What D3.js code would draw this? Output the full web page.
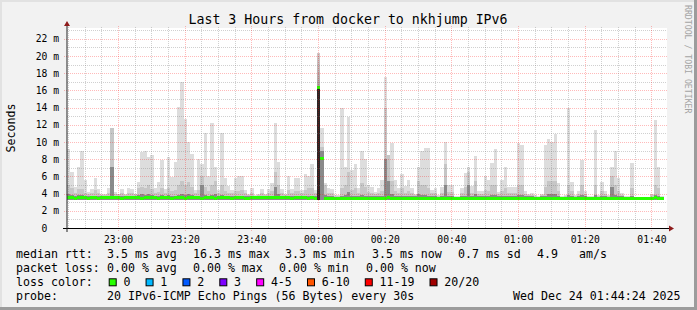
<!DOCTYPE html>
<html>
<head>
<script src="https://d3js.org/d3.v7.min.js"></script>
<style>
  body { margin: 0; background: #f2f2f2; }
  text { font-family: 'DejaVu Sans Mono', monospace; white-space: pre; }
</style>
</head>
<body>
<svg id="chart" width="697" height="310"></svg>
<script>
// one sample per minute, first one at 22:44:40, values in ms
const start = new Date(2025, 11, 23, 22, 44, 40)

// fastest ping, the smoke starts here
const smokeLow = 3.3

const smokeMax = [
  9.2, 6.5, 4.8, 7.1, 8.9, 5.6, 4.2, 4.5, 5.8, 4.5,
  3.9, 3.9, 4.6, 11.6, 4.2, 4.0, 4.5, 3.9, 4.6, 4.5,
  4.0, 5.4, 8.8, 8.9, 8.3, 8.5, 4.6, 5.4, 7.9, 4.5,
  8.3, 5.9, 7.7, 14.1, 17.0, 12.7, 10.0, 8.6, 4.4, 8.0,
  7.5, 11.0, 6.1, 12.2, 7.1, 4.4, 11.0, 5.8, 4.9, 4.4,
  5.8, 6.0, 6.0, 4.4, 3.9, 4.7, 3.8, 3.9, 4.5, 3.9,
  4.5, 5.2, 12.2, 7.7, 4.5, 3.9, 6.1, 4.5, 5.8, 5.8,
  4.4, 6.3, 6.1, 7.4, 4.4, 20.3, 11.6, 5.2, 4.6, 4.5,
  3.8, 3.8, 13.9, 7.1, 12.9, 6.7, 7.4, 4.7, 9.0, 8.0,
  5.0, 4.8, 4.2, 4.6, 5.6, 17.6, 8.5, 9.9, 5.6, 4.6,
  6.3, 4.9, 5.6, 4.6, 3.9, 7.1, 9.0, 9.3, 9.3, 4.4,
  4.6, 3.8, 4.8, 10.0, 5.0, 5.0, 3.7, 3.7, 4.6, 6.4,
  7.1, 4.9, 8.4, 4.3, 4.3, 6.0, 5.6, 7.6, 9.2, 4.2,
  5.6, 7.1, 4.8, 4.8, 4.8, 9.9, 9.6, 4.3, 3.9, 4.1,
  3.8, 3.7, 4.0, 9.7, 10.3, 10.0, 10.9, 5.2, 3.7, 3.8,
  13.9, 5.3, 3.8, 4.3, 7.9, 4.3, 3.7, 3.7, 11.4, 3.8,
  5.4, 4.3, 3.8, 7.1, 9.0, 5.8, 4.1, 3.7, 3.7, 7.6,
  3.6, 3.5, 3.5, 3.5, 3.6, 4.0, 12.6, 7.1, 3.7
]

const smokeMid = [
  5.0, 4.6, 4.1, 4.5, 4.5, 4.1, 4.0, 4.1, 4.4, 4.1,
  3.8, 3.8, 4.1, 11.6, 4.0, 3.9, 4.1, 3.8, 4.1, 4.1,
  3.9, 4.6, 4.8, 4.6, 5.0, 4.5, 4.1, 4.2, 4.6, 4.1,
  4.6, 4.3, 4.4, 5.0, 5.5, 5.0, 5.4, 4.8, 4.1, 4.4,
  6.0, 4.8, 4.3, 5.0, 5.5, 4.1, 5.0, 4.3, 4.1, 4.1,
  4.3, 4.3, 4.4, 4.1, 3.8, 4.1, 3.7, 3.8, 4.1, 3.8,
  4.1, 4.3, 6.5, 5.0, 4.1, 3.8, 4.4, 4.1, 4.3, 4.3,
  4.1, 4.4, 4.6, 4.6, 4.1, 20.3, 9.4, 5.0, 4.1, 4.1,
  3.7, 3.7, 4.6, 5.0, 6.5, 4.4, 4.6, 4.1, 5.2, 4.8,
  4.2, 4.1, 3.9, 4.1, 4.3, 14.0, 8.5, 5.5, 4.3, 4.1,
  4.6, 4.1, 4.3, 4.1, 3.8, 5.5, 5.0, 5.0, 4.6, 4.1,
  4.1, 3.7, 4.1, 7.4, 4.2, 4.2, 3.6, 3.6, 4.1, 4.8,
  6.5, 4.1, 5.5, 3.9, 3.9, 4.4, 4.3, 5.0, 5.0, 3.9,
  4.3, 4.6, 4.1, 4.1, 4.1, 5.0, 5.0, 3.9, 3.8, 3.8,
  3.7, 3.6, 3.8, 4.8, 5.5, 5.5, 5.5, 4.3, 3.6, 3.7,
  5.0, 4.3, 3.7, 3.9, 5.0, 3.9, 3.6, 3.6, 5.0, 3.7,
  4.3, 3.9, 3.7, 6.0, 5.0, 4.3, 3.8, 3.6, 3.6, 4.6,
  3.55, 3.5, 3.5, 3.5, 3.55, 3.8, 5.0, 4.6, 3.6
]

const smokeDark = [
  3.9, 3.8, 3.7, 3.8, 3.8, 3.7, 3.7, 3.7, 3.7, 3.7,
  3.7, 3.7, 3.7, 7.1, 3.7, 3.7, 3.7, 3.7, 3.7, 3.7,
  3.7, 3.8, 3.9, 3.8, 3.9, 3.8, 3.7, 3.7, 3.8, 3.7,
  3.8, 3.7, 3.7, 3.8, 3.9, 3.8, 3.9, 3.8, 3.7, 3.7,
  5.0, 3.8, 3.7, 3.8, 3.9, 3.7, 3.8, 3.7, 3.7, 3.7,
  3.7, 3.7, 3.7, 3.7, 3.7, 3.7, 3.6, 3.7, 3.7, 3.7,
  3.7, 3.7, 4.8, 3.9, 3.7, 3.7, 3.7, 3.7, 3.7, 3.7,
  3.7, 3.7, 3.7, 3.7, 3.7, 16.3, 9.0, 3.8, 3.7, 3.7,
  3.6, 3.6, 3.7, 3.8, 4.2, 3.7, 3.7, 3.7, 3.8, 3.7,
  3.7, 3.7, 3.7, 3.7, 3.7, 8.0, 5.5, 3.9, 3.7, 3.7,
  3.7, 3.7, 3.7, 3.7, 3.7, 3.9, 3.8, 3.8, 3.7, 3.7,
  3.7, 3.6, 3.7, 5.0, 3.7, 3.7, 3.6, 3.6, 3.7, 3.7,
  5.0, 3.7, 3.9, 3.7, 3.7, 3.7, 3.7, 3.8, 3.8, 3.7,
  3.7, 3.7, 3.7, 3.7, 3.7, 3.8, 3.8, 3.7, 3.7, 3.7,
  3.6, 3.6, 3.7, 3.7, 3.9, 3.9, 3.9, 3.7, 3.6, 3.6,
  3.8, 3.7, 3.6, 3.7, 3.8, 3.7, 3.6, 3.6, 3.8, 3.6,
  3.7, 3.7, 3.6, 4.8, 3.8, 3.7, 3.7, 3.6, 3.6, 3.7,
  3.5, 3.5, 3.5, 3.5, 3.5, 3.6, 3.8, 3.7, 3.6
]

const medianRtt = [
  3.5, 3.5, 3.45, 3.5, 3.5, 3.5, 3.45, 3.5, 3.5, 3.45,
  3.5, 3.5, 3.5, 3.6, 3.5, 3.5, 3.45, 3.5, 3.5, 3.5,
  3.5, 3.5, 3.45, 3.5, 3.5, 3.5, 3.5, 3.45, 3.5, 3.5,
  3.5, 3.45, 3.5, 3.5, 3.5, 3.45, 3.5, 3.5, 3.5, 3.5,
  3.45, 3.5, 3.5, 3.5, 3.45, 3.5, 3.5, 3.5, 3.5, 3.45,
  3.5, 3.5, 3.5, 3.45, 3.45, 3.5, 3.5, 3.5, 3.5, 3.5,
  3.5, 3.5, 3.55, 3.6, 3.5, 3.5, 3.5, 3.45, 3.5, 3.5,
  3.5, 3.5, 3.45, 3.5, 3.45, 16.3, 8.1, 3.4, 3.4, 3.4,
  3.4, 3.45, 3.45, 3.4, 3.45, 3.45, 3.45, 3.45, 3.45, 3.45,
  3.4, 3.45, 3.45, 3.45, 3.45, 3.45, 3.5, 3.45, 3.45, 3.45,
  3.4, 3.45, 3.45, 3.45, 3.45, 3.45, 3.45, 3.45, 3.45, 3.45,
  3.45, 3.45, 3.45, 3.45, 3.45, 3.4, 3.45, 3.45, 3.45, 3.45,
  3.45, 3.45, 3.45, 3.45, 3.45, 3.45, 3.45, 3.45, 3.45, 3.45,
  3.45, 3.45, 3.45, 3.45, 3.45, 3.45, 3.45, 3.45, 3.45, 3.45,
  3.45, 3.45, 3.45, 3.45, 3.45, 3.45, 3.45, 3.45, 3.45, 3.45,
  3.45, 3.45, 3.45, 3.45, 3.4, 3.4, 3.45, 3.45, 3.45, 3.45,
  3.45, 3.45, 3.45, 3.45, 3.45, 3.45, 3.45, 3.45, 3.45, 3.45,
  3.45, 3.45, 3.45, 3.45, 3.45, 3.45, 3.5, 3.45, 3.45
]

const title = 'Last 3 Hours from docker to nkhjump IPv6'
const yTicks = [0, 2, 4, 6, 8, 10, 12, 14, 16, 18, 20, 22]

const rttLegend = ['median rtt:', '3.5 ms avg', '16.3 ms max', '3.3 ms min', '3.5 ms now', '0.7 ms sd', '4.9', 'am/s']
const lossLegend = ['packet loss:', '0.00 % avg', '0.00 % max', '0.00 % min', '0.00 % now']
const lossLabels = ['0', '1', '2', '3', '4-5', '6-10', '11-19', '20/20']
const lossColors = ['#26ff00', '#00b8ff', '#0059ff', '#7e00ff', '#ff00ff', '#ff5500', '#ff0000', '#a10000']
const probeLegend = ['probe:', '20 IPv6-ICMP Echo Pings (56 Bytes) every 30s', 'Wed Dec 24 01:44:24 2025']

const W = 697, H = 310
const plot = { left: 67, right: 667, top: 28, bottom: 228 }

const svg = d3.select('#chart')

// background and 3d frame
svg.append('rect').attr('width', W).attr('height', H).attr('fill', '#f2f2f2')
svg.append('path').attr('d', `M0,0H${W}V2H2V${H}H0Z`).attr('fill', '#e2e2e2')
svg.append('path').attr('d', `M${W},${H}H0V${H - 3}H${W - 3}V0H${W}Z`).attr('fill', '#9c9c9c')

const end = new Date(+start + 3 * 3600 * 1000)
const x = d3.scaleTime().domain([start, end]).range([plot.left, plot.right])
const y = d3.scaleLinear().domain([0, 23.26]).range([plot.bottom, plot.top])

svg.append('rect')
  .attr('x', plot.left).attr('y', plot.top)
  .attr('width', plot.right - plot.left).attr('height', plot.bottom - plot.top)
  .attr('fill', '#fff')

const rows = smokeMax.map((v, i) => ({
  t0: new Date(+start + i * 60000),
  t1: new Date(+start + (i + 1) * 60000),
  max: v, mid: smokeMid[i], dark: smokeDark[i], med: medianRtt[i]
}))

const defs = svg.append('defs')
const fade = defs.append('linearGradient').attr('id', 'fade')
  .attr('x1', 0).attr('y1', 1).attr('x2', 0).attr('y2', 0)
fade.append('stop').attr('offset', 0).attr('stop-color', '#2f2828')
fade.append('stop').attr('offset', 1).attr('stop-color', '#cfc8c8')

// smoke
const smoke = svg.append('g').attr('shape-rendering', 'crispEdges')
const band = (cls, top, fill) => {
  smoke.selectAll('rect.' + cls).data(rows).join('rect')
    .attr('class', cls)
    .attr('x', d => x(d.t0))
    .attr('width', d => x(d.t1) - x(d.t0))
    .attr('y', d => y(top(d)))
    .attr('height', d => Math.max(0, y(smokeLow) - y(top(d))))
    .attr('fill', fill)
}
const tall = d => d.dark - smokeLow > 10
band('light', d => d.max, '#dddddd')
band('mid', d => d.mid, d => tall(d) ? 'url(#fade)' : '#c6c6c6')
band('dark', d => d.dark, d => tall(d) ? '#2a2626' : '#8a8a8a')

// median
svg.append('g').attr('shape-rendering', 'crispEdges')
  .selectAll('rect').data(rows).join('rect')
  .attr('x', d => x(d.t0))
  .attr('width', d => x(d.t1) - x(d.t0))
  .attr('y', d => y(d.med) - 1.5)
  .attr('height', 3)
  .attr('fill', lossColors[0])

// grid
const grid = svg.append('g').attr('stroke-dasharray', '1,1').attr('shape-rendering', 'crispEdges')
const minorY = d3.range(1, 24, 2)
const majorY = yTicks.filter(v => v > 0)
grid.selectAll('line.hy').data(minorY).join('line')
  .attr('x1', plot.left).attr('x2', plot.right)
  .attr('y1', d => Math.round(y(d)) + 0.5).attr('y2', d => Math.round(y(d)) + 0.5)
  .attr('stroke', 'rgba(120,120,120,0.35)')
grid.selectAll('line.hY').data(majorY).join('line')
  .attr('x1', plot.left - 3).attr('x2', plot.right)
  .attr('y1', d => Math.round(y(d)) + 0.5).attr('y2', d => Math.round(y(d)) + 0.5)
  .attr('stroke', 'rgba(255,0,0,0.27)')

const minorX = x.ticks(d3.timeMinute.every(5)).filter(d => d.getMinutes() % 20 !== 0)
const majorX = x.ticks(d3.timeMinute.every(20))
grid.selectAll('line.vx').data(minorX).join('line')
  .attr('x1', d => Math.round(x(d)) + 0.5).attr('x2', d => Math.round(x(d)) + 0.5)
  .attr('y1', plot.top - 1).attr('y2', plot.bottom)
  .attr('stroke', 'rgba(120,120,120,0.35)')
grid.selectAll('line.vX').data(majorX).join('line')
  .attr('x1', d => Math.round(x(d)) + 0.5).attr('x2', d => Math.round(x(d)) + 0.5)
  .attr('y1', plot.top - 2).attr('y2', plot.bottom + 3)
  .attr('stroke', 'rgba(255,0,0,0.27)')

// axes lines
svg.append('line')
  .attr('x1', plot.left - 4).attr('x2', plot.right + 3)
  .attr('y1', plot.bottom + 0.5).attr('y2', plot.bottom + 0.5)
  .attr('stroke', '#000')
svg.append('line')
  .attr('x1', plot.left).attr('x2', plot.left)
  .attr('y1', plot.top - 2).attr('y2', plot.bottom + 4)
  .attr('stroke', '#222')

// arrows
svg.append('path').attr('d', `M${plot.left - 3},${plot.top - 2}L${plot.left + 3},${plot.top - 2}L${plot.left},${plot.top - 7}Z`)
  .attr('fill', '#8e1c1c')
svg.append('path').attr('d', `M${plot.right + 2},${plot.bottom - 2.5}L${plot.right + 2},${plot.bottom + 3.5}L${plot.right + 7},${plot.bottom + 0.5}Z`)
  .attr('fill', '#8e1c1c')

// tick labels through d3 axes
const xAxis = svg.append('g')
  .attr('transform', `translate(0,${plot.bottom})`)
  .call(d3.axisBottom(x).ticks(d3.timeMinute.every(20)).tickFormat(d3.timeFormat('%H:%M')).tickSize(0).tickPadding(8))
xAxis.select('.domain').remove()
xAxis.selectAll('text')
  .attr('font-family', "'DejaVu Sans Mono', monospace")
  .attr('font-size', '9.7px').attr('fill', '#000')

const yAxis = svg.append('g')
  .attr('transform', `translate(${plot.left},0)`)
  .call(d3.axisLeft(y).tickValues(yTicks).tickFormat(d => d ? `${d} m` : '0  ').tickSize(0).tickPadding(8))
yAxis.select('.domain').remove()
yAxis.selectAll('text')
  .attr('font-family', "'DejaVu Sans Mono', monospace")
  .attr('font-size', '9.7px').attr('fill', '#000')

// title and side labels
svg.append('text')
  .attr('x', 348).attr('y', 23.5)
  .attr('text-anchor', 'middle')
  .attr('font-size', '13.25px')
  .text(title)

svg.append('text')
  .attr('transform', `translate(14.5,${(plot.top + plot.bottom) / 2}) rotate(-90)`)
  .attr('text-anchor', 'middle')
  .attr('font-size', '11.6px')
  .text('Seconds')

svg.append('text')
  .attr('transform', 'translate(684.5,5) rotate(90)')
  .attr('font-size', '8.2px')
  .attr('fill', '#a4a4a4')
  .text('RRDTOOL / TOBI OETIKER')

// legend
const legend = svg.append('g').attr('font-size', '11.6px')
const row = (items, xs, yb) => {
  legend.append('g').selectAll('text').data(items).join('text')
    .attr('x', (d, i) => xs[i]).attr('y', yb)
    .text(d => d)
}
row(rttLegend, [16, 107, 193, 285, 372, 458, 537, 579], 258)
row(lossLegend, [16, 107, 193, 279, 366], 271.8)
row(['loss color:'], [16], 285.8)
row(probeLegend, [16, 107, 513], 299.5)

let bx = 108.7
const boxes = lossLabels.map(l => {
  const b = { label: l, x: bx }
  bx += 29.9 + 6.97 * l.length
  return b
})
const lg = legend.append('g')
lg.selectAll('rect').data(boxes).join('rect')
  .attr('x', d => d.x + 0.5).attr('y', 278.8)
  .attr('width', 7).attr('height', 7)
  .attr('fill', (d, i) => lossColors[i])
  .attr('stroke', '#000')
lg.selectAll('text').data(boxes).join('text')
  .attr('x', d => d.x + 14.7).attr('y', 285.8)
  .text(d => d.label)
</script>
</body>
</html>
